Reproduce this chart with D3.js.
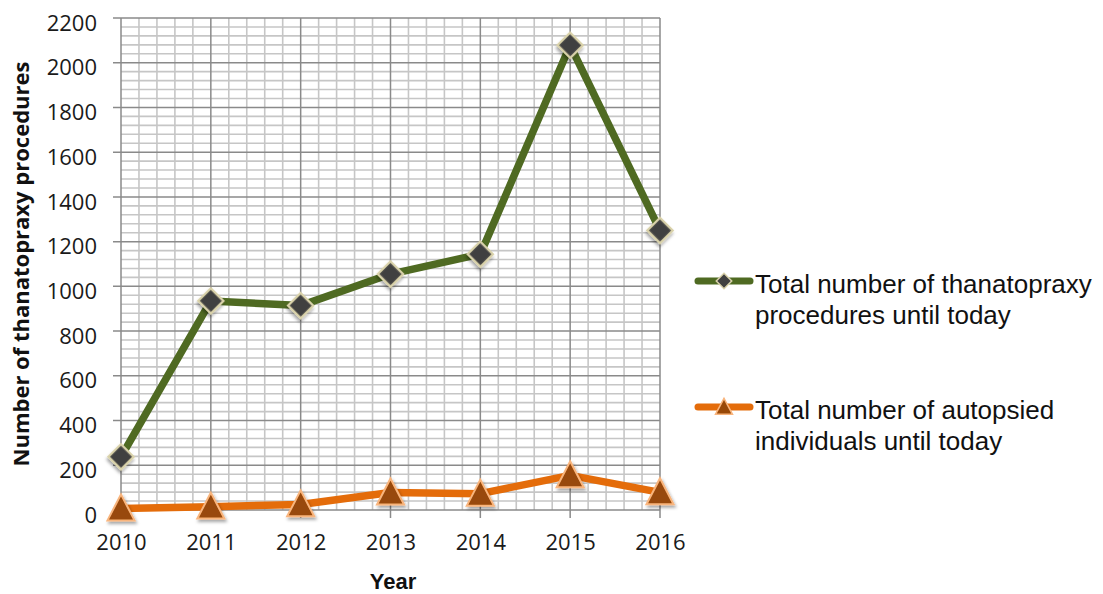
<!DOCTYPE html>
<html>
<head>
<meta charset="utf-8">
<script src="https://cdn.jsdelivr.net/npm/d3@7/dist/d3.min.js"></script>
<style>
  html, body { margin: 0; padding: 0; background: #fff; }
  svg { display: block; }
</style>
</head>
<body>
<svg id="chart" width="1103" height="594"></svg>
<script>
// Yearly totals
const years = [2010, 2011, 2012, 2013, 2014, 2015, 2016];
const thanatopraxy = [238, 935, 914, 1055, 1144, 2078, 1250];
const autopsied = [7, 15, 25, 78, 73, 155, 79];
const yTicks = [0, 200, 400, 600, 800, 1000, 1200, 1400, 1600, 1800, 2000, 2200];
const seriesNames = [
  ["Total number of thanatopraxy", "procedures until today"],
  ["Total number of autopsied", "individuals until today"]
];

const svg = d3.select("#chart");
const plotLeft = 121, plotRight = 660, plotTop = 18, plotBottom = 510;

const x = d3.scaleLinear().domain([2010, 2016]).range([plotLeft, plotRight]);
const y = d3.scaleLinear().domain([0, 2200]).range([plotBottom, plotTop]);

const defs = svg.append("defs");
const shadow = defs.append("filter").attr("id", "shadow")
  .attr("x", "-50%").attr("y", "-50%").attr("width", "200%").attr("height", "200%");
shadow.append("feDropShadow").attr("dx", 1.5).attr("dy", 2.5)
  .attr("stdDeviation", 1.6).attr("flood-color", "#000").attr("flood-opacity", 0.35);

// Grid: minor lines every 0.2 year / 40 units, major at each year / 200 units
const grid = svg.append("g");
const minorX = d3.range(0, 31).map(i => 2010 + i * 0.2).filter((v, i) => i % 5 !== 0);
const minorY = d3.range(0, 56).map(i => i * 40).filter((v, i) => i % 5 !== 0);

grid.selectAll(".mx").data(minorX).join("line")
  .attr("x1", d => x(d)).attr("x2", d => x(d))
  .attr("y1", plotTop).attr("y2", plotBottom)
  .attr("stroke", "#c6c6c6").attr("stroke-width", 1.6);
grid.selectAll(".my").data(minorY).join("line")
  .attr("x1", plotLeft).attr("x2", plotRight)
  .attr("y1", d => y(d)).attr("y2", d => y(d))
  .attr("stroke", "#c6c6c6").attr("stroke-width", 1.6);
grid.selectAll(".Mx").data(years).join("line")
  .attr("x1", d => x(d)).attr("x2", d => x(d))
  .attr("y1", plotTop).attr("y2", plotBottom + 8)
  .attr("stroke", "#8a8a8a").attr("stroke-width", 1.5);
grid.selectAll(".My").data(yTicks).join("line")
  .attr("x1", plotLeft - 8).attr("x2", plotRight)
  .attr("y1", d => y(d)).attr("y2", d => y(d))
  .attr("stroke", "#8a8a8a").attr("stroke-width", 1.5);

// Axis labels
const yAxis = svg.append("g").attr("transform", `translate(${plotLeft},0)`)
  .call(d3.axisLeft(y).tickValues(yTicks).tickFormat(d3.format("d")).tickSize(0).tickPadding(24));
const xAxis = svg.append("g").attr("transform", `translate(0,${plotBottom})`)
  .call(d3.axisBottom(x).tickValues(years).tickFormat(d3.format("d")).tickSize(0).tickPadding(29));
[yAxis, xAxis].forEach(a => {
  a.select(".domain").remove();
  a.selectAll("text").attr("font-family", "'Open Sans', sans-serif")
    .attr("font-size", 22).attr("fill", "#1a1a1a");
});
yAxis.selectAll("text").attr("dy", "0.55em");
xAxis.selectAll("text").attr("dy", "0.5em");

svg.append("text").attr("x", 393).attr("y", 589)
  .attr("text-anchor", "middle").attr("font-family", "'Liberation Sans', Arial, sans-serif")
  .attr("font-weight", "bold").attr("font-size", 22).attr("fill", "#111")
  .text("Year");

svg.append("text").attr("transform", "translate(29,264) rotate(-90)")
  .attr("text-anchor", "middle").attr("font-family", "'Open Sans', sans-serif")
  .attr("font-weight", "bold").attr("font-size", 22).attr("fill", "#111")
  .text("Number of thanatopraxy procedures");

// Series
const diamond = d3.symbol(d3.symbolSquare, 320)();
const diamondSmall = d3.symbol(d3.symbolSquare, 120)();
const triPath = (w, h) => `M0,${-h * 0.54}L${w / 2},${h * 0.46}L${-w / 2},${h * 0.46}Z`;

const line = d3.line().x((d, i) => x(years[i])).y(d => y(d));

svg.append("path").datum(autopsied).attr("d", line)
  .attr("fill", "none").attr("stroke", "#e46c0a").attr("stroke-width", 7.5)
  .attr("stroke-linejoin", "round");
svg.append("path").datum(thanatopraxy).attr("d", line)
  .attr("fill", "none").attr("stroke", "#4f6a22").attr("stroke-width", 7.5)
  .attr("stroke-linejoin", "round");

svg.append("g").selectAll("path").data(autopsied).join("path")
  .attr("transform", (d, i) => `translate(${x(years[i])},${y(d)})`)
  .attr("d", triPath(27, 26))
  .attr("fill", "#984807").attr("stroke", "#f9b57d").attr("stroke-width", 2)
  .attr("filter", "url(#shadow)");

svg.append("g").selectAll("path").data(thanatopraxy).join("path")
  .attr("transform", (d, i) => `translate(${x(years[i])},${y(d)}) rotate(45)`)
  .attr("d", diamond)
  .attr("fill", "#404040").attr("stroke", "#d9d2aa").attr("stroke-width", 2.2)
  .attr("filter", "url(#shadow)");

// Legend
const legend = svg.append("g");
const legendRows = [
  { y: 281, color: "#4f6a22", lines: seriesNames[0], marker: "diamond" },
  { y: 407, color: "#e46c0a", lines: seriesNames[1], marker: "triangle" }
];
legendRows.forEach(r => {
  legend.append("line").attr("x1", 698).attr("x2", 750)
    .attr("y1", r.y).attr("y2", r.y)
    .attr("stroke", r.color).attr("stroke-width", 7).attr("stroke-linecap", "round");
  if (r.marker === "diamond") {
    legend.append("path").attr("d", diamondSmall)
      .attr("transform", `translate(724,${r.y}) rotate(45)`)
      .attr("fill", "#404040").attr("stroke", "#d9d2aa").attr("stroke-width", 1.5);
  } else {
    legend.append("path").attr("d", triPath(17, 16))
      .attr("transform", `translate(724,${r.y})`)
      .attr("fill", "#984807").attr("stroke", "#f9b57d").attr("stroke-width", 1.5);
  }
  r.lines.forEach((t, i) => {
    legend.append("text").attr("x", 755).attr("y", r.y + 12 + i * 31)
      .attr("font-family", "'Liberation Sans', Arial, sans-serif")
      .attr("font-size", 26).attr("fill", "#111").text(t);
  });
});
</script>
</body>
</html>
